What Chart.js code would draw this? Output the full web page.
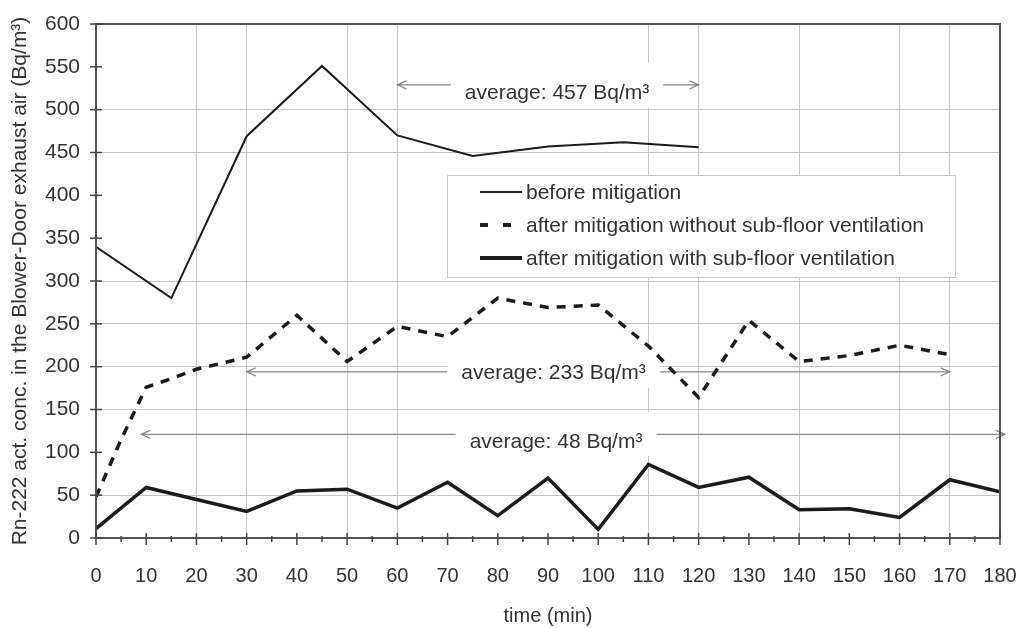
<!DOCTYPE html>
<html>
<head>
<meta charset="utf-8">
<script src="https://cdn.jsdelivr.net/npm/chart.js@4.4.1/dist/chart.umd.min.js"></script>
<style>
  html, body { margin: 0; padding: 0; background: #fff; }
  #wrap { width: 1036px; height: 628px; }
</style>
</head>
<body>
<div id="wrap"><canvas id="radon" width="1036" height="628"></canvas></div>
<script>
// readings (time in min, concentration in Bq/m³)
const beforeTimes = [0, 15, 30, 45, 60, 75, 90, 105, 120];
const beforeValues = [340, 280, 469, 551, 470, 446, 457, 462, 456];

const withoutTimes = [0, 5, 10, 15, 20, 25, 30, 40, 50, 60, 70, 80, 90, 100, 110, 120, 130, 140, 150, 160, 170];
const withoutValues = [48, 115, 176, 186, 197, 204, 211, 260, 206, 247, 235, 280, 269, 272, 224, 164, 254, 206, 213, 225, 214];

const withTimes = [0, 10, 20, 30, 40, 50, 60, 70, 80, 90, 100, 110, 120, 130, 140, 150, 160, 170, 180];
const withValues = [11, 59, 45, 31, 55, 57, 35, 65, 26, 70, 10, 86, 59, 71, 33, 34, 24, 68, 54];

const seriesLabels = [
    'before mitigation',
    'after mitigation without sub-floor ventilation',
    'after mitigation with sub-floor ventilation'
];

// average markers: text, arrow level, text level, arrow span (min), text centre (min)
const averageTexts = ['average: 457 Bq/m³', 'average: 233 Bq/m³', 'average: 48 Bq/m³'];
const averageArrowLevels = [529, 194, 121];
const averageTextLevels = [519, 192, 112];
const averageFrom = [60, 30, 9];
const averageTo = [120, 170, 181];
const averageTextAt = [91.8, 91.1, 91.6];

const timeTicks = [0, 10, 20, 30, 40, 50, 60, 70, 80, 90, 100, 110, 120, 130, 140, 150, 160, 170, 180];
const concTicks = [0, 50, 100, 150, 200, 250, 300, 350, 400, 450, 500, 550, 600];

// grid lines that are not visible in the scan
const hiddenTimeGrid = [10, 40, 70, 80, 90, 100, 130, 150];
const hiddenConcGrid = [100, 350, 400, 550];

const FONT = "'Liberation Sans', Arial, sans-serif";
const INK = '#1c1c1c';
const TEXT = '#333';

function toPoints(times, values) {
    return times.map((t, i) => ({ x: t, y: values[i] }));
}

function arrow(ctx, x0, x1, y) {
    const dir = Math.sign(x1 - x0);
    ctx.beginPath();
    ctx.moveTo(x0, y);
    ctx.lineTo(x1, y);
    ctx.moveTo(x1 - dir * 9, y - 4);
    ctx.lineTo(x1, y);
    ctx.lineTo(x1 - dir * 9, y + 4);
    ctx.stroke();
}

const averagesPlugin = {
    id: 'averages',
    beforeDatasetsDraw(chart) {
        const { ctx, scales: { x, y } } = chart;
        ctx.save();
        ctx.font = `21px ${FONT}`;
        ctx.textAlign = 'center';
        ctx.textBaseline = 'middle';
        averageTexts.forEach((label, i) => {
            const w = ctx.measureText(label).width;
            const cx = x.getPixelForValue(averageTextAt[i]);
            const ay = y.getPixelForValue(averageArrowLevels[i]);
            const ty = y.getPixelForValue(averageTextLevels[i]);
            const leftEnd = cx - w / 2 - 14;
            const rightEnd = cx + w / 2 + 14;

            ctx.fillStyle = '#fff';
            const top = Math.min(ay, ty) - 22;
            ctx.fillRect(leftEnd, top, rightEnd - leftEnd, ty + 14 - top);

            ctx.strokeStyle = '#8a8a8a';
            ctx.lineWidth = 1.3;
            arrow(ctx, leftEnd, x.getPixelForValue(averageFrom[i]), ay);
            arrow(ctx, rightEnd, x.getPixelForValue(averageTo[i]), ay);

            ctx.fillStyle = TEXT;
            ctx.fillText(label, cx, ty);
        });
        ctx.restore();
    }
};

const framePlugin = {
    id: 'frame',
    afterDatasetsDraw(chart) {
        const { ctx, chartArea: a, scales: { x, y } } = chart;
        ctx.save();

        // legend box
        const bx = a.left + 351, by = a.top + 151, bw = 508, bh = 102;
        ctx.fillStyle = '#fff';
        ctx.fillRect(bx, by, bw, bh);
        ctx.strokeStyle = '#c8c8c8';
        ctx.lineWidth = 1;
        ctx.strokeRect(bx + 0.5, by + 0.5, bw, bh);
        ctx.font = `21px ${FONT}`;
        ctx.textBaseline = 'middle';
        ctx.textAlign = 'left';
        chart.data.datasets.forEach((ds, i) => {
            const ly = by + 17 + i * 33;
            ctx.strokeStyle = ds.borderColor;
            ctx.lineWidth = ds.legendWidth;
            ctx.setLineDash(ds.legendDash);
            ctx.beginPath();
            ctx.moveTo(bx + 33, ly);
            ctx.lineTo(bx + 75, ly);
            ctx.stroke();
            ctx.setLineDash([]);
            ctx.fillStyle = TEXT;
            ctx.fillText(ds.label, bx + 79, ly + 1);
        });

        // plot frame
        ctx.strokeStyle = '#555';
        ctx.lineWidth = 2;
        ctx.strokeRect(a.left, a.top, a.right - a.left, a.bottom - a.top);

        // tick marks
        ctx.lineWidth = 1.5;
        ctx.strokeStyle = '#444';
        for (let t = x.min; t <= x.max; t += 5) {
            const px = x.getPixelForValue(t);
            const major = t % 10 === 0;
            ctx.beginPath();
            ctx.moveTo(px, a.bottom - (major ? 5 : 2));
            ctx.lineTo(px, a.bottom + (major ? 7 : 4));
            ctx.stroke();
        }
        y.ticks.forEach(tk => {
            const py = y.getPixelForValue(tk.value);
            ctx.beginPath();
            ctx.moveTo(a.left - 6, py);
            ctx.lineTo(a.left + 6, py);
            ctx.stroke();
        });
        ctx.restore();
    }
};

new Chart(document.getElementById('radon'), {
    type: 'line',
    data: {
        datasets: [
            {
                label: seriesLabels[0],
                data: toPoints(beforeTimes, beforeValues),
                borderColor: INK,
                borderWidth: 2,
                legendWidth: 2,
                legendDash: []
            },
            {
                label: seriesLabels[1],
                data: toPoints(withoutTimes, withoutValues),
                borderColor: INK,
                borderWidth: 3.5,
                borderDash: [9, 8],
                legendWidth: 4,
                legendDash: [8, 15]
            },
            {
                label: seriesLabels[2],
                data: toPoints(withTimes, withValues),
                borderColor: INK,
                borderWidth: 3.5,
                legendWidth: 4,
                legendDash: []
            }
        ]
    },
    options: {
        responsive: false,
        animation: false,
        devicePixelRatio: 1,
        layout: { padding: { top: 24, right: 36, left: 0, bottom: 0 } },
        elements: {
            point: { radius: 0, hoverRadius: 0 },
            line: { tension: 0, fill: false, borderCapStyle: 'butt', borderJoinStyle: 'miter' }
        },
        plugins: {
            legend: { display: false },
            tooltip: { enabled: false }
        },
        scales: {
            x: {
                type: 'linear',
                min: 0,
                max: 180,
                afterBuildTicks: scale => { scale.ticks = timeTicks.map(v => ({ value: v })); },
                afterFit: scale => {
                    scale.height = 90;
                    scale.paddingLeft = 0;
                    scale.paddingRight = 0;
                },
                grid: {
                    drawTicks: false,
                    color: c => hiddenTimeGrid.includes(c.tick.value) ? 'rgba(0,0,0,0)' : '#c6c6c6'
                },
                border: { display: true, color: '#555', width: 2 },
                ticks: {
                    padding: 26,
                    maxRotation: 0,
                    autoSkip: false,
                    color: TEXT,
                    font: { family: FONT, size: 20 }
                },
                title: {
                    display: true,
                    text: 'time (min)',
                    color: TEXT,
                    padding: { top: 0, bottom: 0 },
                    font: { family: FONT, size: 20 }
                }
            },
            y: {
                min: 0,
                max: 600,
                afterBuildTicks: scale => { scale.ticks = concTicks.map(v => ({ value: v })); },
                afterFit: scale => {
                    scale.width = 96;
                    scale.paddingTop = 0;
                    scale.paddingBottom = 0;
                },
                grid: {
                    drawTicks: false,
                    color: c => hiddenConcGrid.includes(c.tick.value) ? 'rgba(0,0,0,0)' : '#c6c6c6'
                },
                border: { display: true, color: '#555', width: 2 },
                ticks: {
                    padding: 16,
                    color: TEXT,
                    font: { family: FONT, size: 21 }
                },
                title: {
                    display: true,
                    text: 'Rn-222 act. conc. in the Blower-Door exhaust air (Bq/m³)',
                    color: TEXT,
                    padding: { top: 8, bottom: 0 },
                    font: { family: FONT, size: 21 }
                }
            }
        }
    },
    plugins: [averagesPlugin, framePlugin]
});
</script>
</body>
</html>
